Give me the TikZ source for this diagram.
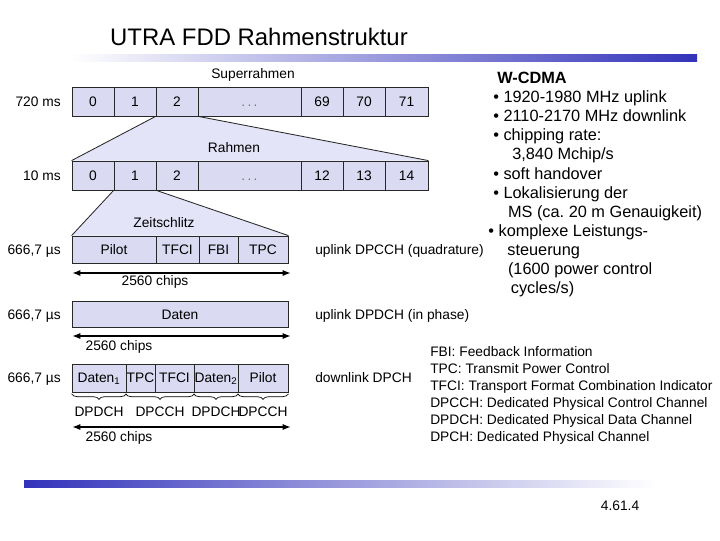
\documentclass[tikz,border=0pt]{standalone}
\usepackage{fontspec}
\setmainfont{Liberation Sans}
\usepackage{xcolor}
\usepackage{tikz}
\usetikzlibrary{arrows.meta,decorations.pathreplacing,backgrounds}

\definecolor{cellfill}{RGB}{218,218,242}
\definecolor{trapfill}{RGB}{228,228,248}
\definecolor{barblue}{RGB}{51,51,187}
\definecolor{edgegray}{RGB}{40,40,40}

\begin{document}
\begin{tikzpicture}[x=0.025cm, y=-0.025cm,
    every node/.style={font=\fontsize{9.8}{11.8}\selectfont, inner sep=0pt},
    cell/.style={draw=edgegray, line width=0.6pt, fill=cellfill, minimum height=#1*0.025cm,
                 text height=7pt, text depth=0.5pt},
    cell/.default=29,
    rowlbl/.style={text height=7pt, text depth=0pt},
    edge/.style={draw=edgegray, line width=0.6pt},
    chipspan/.style={{Latex[length=6pt,width=4.5pt]}-{Latex[length=6pt,width=4.5pt]}, line width=1.3pt},
    chbrace/.style={decorate, decoration={brace, mirror, amplitude=4pt}, line width=0.5pt}]
        \useasboundingbox (0,0) rectangle (720,540);

        % Title and bars
        \node[font=\fontsize{17}{20}\selectfont] (title) at (259,37) {UTRA FDD Rahmenstruktur};
        \shade[left color=white, right color=barblue] (70,54) rectangle (697,61);
        \shade[left color=barblue, right color=white] (24,480) rectangle (656,487);
        \node (pagenr) at (620,506) {4.61.4};

        % Superrahmen (720 ms)
        \node (superlbl) at (253,75) {Superrahmen};
        \node[rowlbl, anchor=east] (tsuper) at (61,101.5) {720 ms};
        \foreach \nm/\l/\r/\txt in {a0/72/114/0, a1/114/156/1, a2/156/198/2, ad/198/301/{\textcolor{black!55}{.\,.\,.}},
                                    a69/301/343/69, a70/343/385/70, a71/385/428/71} {
            \node[cell, minimum width={(\r-\l)*0.025cm}] (\nm) at ({(\l+\r)/2},101.5) {\txt};
        }

        % Rahmen (10 ms)
        \node (framelbl) at (234,148) {Rahmen};
        \node[rowlbl, anchor=east] (tframe) at (61,175.5) {10 ms};
        \foreach \nm/\l/\r/\txt in {b0/72/114/0, b1/114/156/1, b2/156/198/2, bd/198/301/{\textcolor{black!55}{.\,.\,.}},
                                    b12/301/343/12, b13/343/385/13, b14/385/428/14} {
            \node[cell, minimum width={(\r-\l)*0.025cm}] (\nm) at ({(\l+\r)/2},175.5) {\txt};
        }

        % Zeitschlitz, uplink DPCCH
        \node (slotlbl) at (164,223) {Zeitschlitz};
        \node[rowlbl, anchor=east] (tslot) at (61,249.5) {666,7 µs};
        \foreach \nm/\l/\r/\txt in {c1/72/156/Pilot, c2/156/199/TFCI, c3/199/238/FBI, c4/238/288/TPC} {
            \node[cell=27, minimum width={(\r-\l)*0.025cm}] (\nm) at ({(\l+\r)/2},249.5) {\txt};
        }
        \node[rowlbl, anchor=west] (ulq) at (315,249.5) {uplink DPCCH (quadrature)};

        % uplink DPDCH
        \node[rowlbl, anchor=east] (tdata) at (61,314.5) {666,7 µs};
        \node[cell=26, minimum width=216*0.025cm] (d1) at (180,314.5) {Daten};
        \node[rowlbl, anchor=west] (uli) at (315,314.5) {uplink DPDCH (in phase)};

        % downlink DPCH
        \node[rowlbl, anchor=east] (tdown) at (61,378) {666,7 µs};
        \foreach \nm/\l/\r/\txt in {e1/72/126/Daten\textsubscript{1}, e2/126/155/TPC, e3/155/194/TFCI,
                                    e4/194/238/Daten\textsubscript{2}, e5/238/288/Pilot} {
            \node[cell=28, minimum width={(\r-\l)*0.025cm}] (\nm) at ({(\l+\r)/2},378) {\txt};
        }
        \node[rowlbl, anchor=west] (dl) at (315,378) {downlink DPCH};

        % Zoom wedges
        \begin{scope}[on background layer]
            \fill[trapfill] (a2.south west) -- (a2.south east) -- (b14.north east) -- (b0.north west) -- cycle;
            \fill[trapfill] (b1.south west) -- (b1.south east) -- (c4.north east) -- (c1.north west) -- cycle;
        \end{scope}
        \draw[edge] (a2.south west) -- (b0.north west);
        \draw[edge] (a2.south east) -- (b14.north east);
        \draw[edge] (b1.south west) -- (c1.north west);
        \draw[edge] (b1.south east) -- (c4.north east);

        % 2560 chips
        \coordinate (w1l) at (72,273);  \coordinate (w1r) at (291,273);
        \coordinate (w2l) at (72,336);  \coordinate (w2r) at (291,336);
        \coordinate (w3l) at (72,427);  \coordinate (w3r) at (291,427);
        \draw[chipspan] (w1l) -- (w1r);
        \draw[chipspan] (w2l) -- (w2r);
        \draw[chipspan] (w3l) -- (w3r);
        \node (chips1) at (155,282) {2560 chips};
        \node (chips2) at (119,347) {2560 chips};
        \node (chips3) at (119,438) {2560 chips};

        % Channel braces
        \draw[chbrace] ([yshift=-1pt]e1.south west) -- ([yshift=-1pt]e1.south east)
            node[midway, below=9pt] (br1) {DPDCH};
        \draw[chbrace] ([yshift=-1pt]e2.south west) -- ([yshift=-1pt]e3.south east)
            node[midway, below=9pt] (br2) {DPCCH};
        \draw[chbrace] ([yshift=-1pt]e4.south west) -- ([yshift=-1pt]e4.south east)
            node[midway, below=9pt] (br3) {DPDCH};
        \draw[chbrace] ([yshift=-1pt]e5.south west) -- ([yshift=-1pt]e5.south east)
            node[midway, below=9pt] (br4) {DPCCH};

        % W-CDMA facts
        \node[font=\bfseries\fontsize{11.6}{13.6}\selectfont] (wcdma) at (532,78) {W-CDMA};
        \node[anchor=west, align=left, font=\fontsize{11.6}{13.6}\selectfont] (facts) at (493,194) {%
            \textbullet\ 1920-1980 MHz uplink\\
            \textbullet\ 2110-2170 MHz downlink\\
            \textbullet\ chipping rate:\\
            \hspace*{13.5pt}3,840 Mchip/s\\
            \textbullet\ soft handover\\
            \textbullet\ Lokalisierung der\\
            \hspace*{10.5pt}MS (ca.\ 20 m Genauigkeit)\\
            \hspace*{-3.5pt}\textbullet\ komplexe Leistungs-\\
            \hspace*{10pt}steuerung\\
            \hspace*{10.5pt}(1600 power control\\
            \hspace*{12.5pt}cycles/s)};

        % Abbreviations
        \node[anchor=west, align=left, font=\fontsize{9.8}{12}\selectfont] (abbr) at (430,395.5) {%
            FBI: Feedback Information\\
            TPC: Transmit Power Control\\
            TFCI: Transport Format Combination Indicator\\
            DPCCH: Dedicated Physical Control Channel\\
            DPDCH: Dedicated Physical Data Channel\\
            DPCH: Dedicated Physical Channel};
\end{tikzpicture}
\end{document}
